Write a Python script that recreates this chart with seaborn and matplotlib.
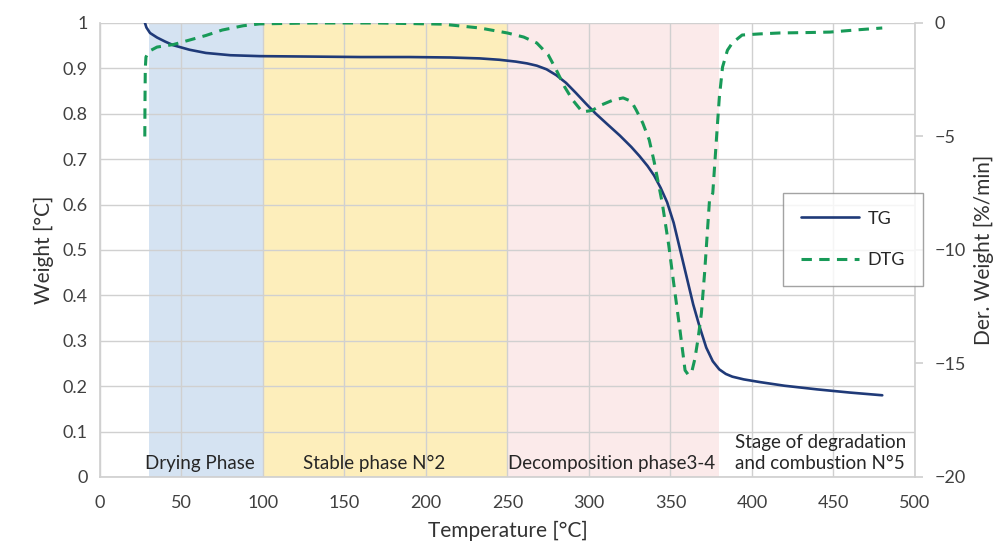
import matplotlib
matplotlib.use("Agg")
import matplotlib.pyplot as plt
import seaborn as sns
from matplotlib.lines import Line2D

# TG curve (weight fraction vs temperature)
tg_temp = [27.6, 28.5, 30.7, 35, 40, 45, 55, 65, 80, 98, 130, 160, 190, 215, 233, 245,
           255, 262, 268, 274, 280, 286, 292, 298, 304, 311, 319, 326, 331, 336, 340,
           344, 348, 352, 356, 360, 364, 368, 372, 376, 380, 384, 388, 395, 405, 420,
           440, 460, 480]
tg_weight = [1.0, 0.99, 0.978, 0.968, 0.959, 0.951, 0.941, 0.934, 0.929, 0.927, 0.926,
             0.925, 0.925, 0.924, 0.922, 0.919, 0.915, 0.911, 0.906, 0.898, 0.885,
             0.868, 0.846, 0.823, 0.801, 0.778, 0.752, 0.727, 0.707, 0.685, 0.664,
             0.637, 0.605, 0.56, 0.50, 0.44, 0.38, 0.33, 0.285, 0.255, 0.237, 0.227,
             0.221, 0.215, 0.209, 0.201, 0.193, 0.186, 0.18]

# DTG curve (%/min vs temperature)
dtg_temp = [27.5, 27.6, 27.8, 28.2, 30, 35, 45, 55, 65, 75, 88, 98, 130, 170, 210, 233,
            250, 260, 268, 275, 280, 285, 290, 296, 302, 308, 315, 321, 326, 329,
            333, 337, 340, 343, 345, 349, 352, 356, 359, 361, 363, 365, 367, 369,
            371, 374, 376, 378.5, 380, 382, 385, 388, 394, 405, 417, 435, 448, 465, 480]
dtg_value = [-5.0, -3.5, -2.0, -1.5, -1.25, -1.06, -0.95, -0.75, -0.55, -0.31, -0.12,
             -0.04, 0.0, 0.0, -0.05, -0.22, -0.44, -0.62, -0.88, -1.4, -2.07, -2.8,
             -3.39, -3.92, -3.85, -3.6, -3.39, -3.3, -3.45, -3.83, -4.4, -5.15, -6.1,
             -7.2, -7.93, -9.8, -11.45, -13.6, -15.3, -15.5, -15.4, -14.8, -13.9,
             -12.8, -11.0, -7.8, -7.5, -4.85, -3.3, -1.94, -1.2, -0.88, -0.53, -0.48,
             -0.44, -0.42, -0.40, -0.3, -0.22]

phase_edges = [30, 100, 250, 380]
phase_colors = ["#d5e3f2", "#fdeebb", "#fbeaea"]
phase_labels = ["Drying Phase", "Stable phase N\u00b02", "Decomposition phase3-4",
                "Stage of degradation\nand combustion N\u00b05"]
phase_label_x = [61, 168, 314, 442]

sns.set_theme(style="white")
plt.rcParams["font.family"] = ["Lato", "DejaVu Sans"]

fig = plt.figure(figsize=(10.06, 5.54), dpi=100)
ax = fig.add_axes([0.0994, 0.139, 0.81, 0.8195])
ax2 = ax.twinx()

for i, c in enumerate(phase_colors):
    ax.axvspan(phase_edges[i], phase_edges[i + 1], color=c, zorder=0, lw=0)

tg_color = "#1f3a78"
dtg_color = "#189a58"
sns.lineplot(x=tg_temp, y=tg_weight, ax=ax, color=tg_color, lw=1.9,
             estimator=None, sort=False, zorder=3)
sns.lineplot(x=dtg_temp, y=dtg_value, ax=ax2, color=dtg_color, lw=2.2,
             estimator=None, sort=False, zorder=3)
ax2.lines[0].set_dashes((3.4, 2.4))

ax.set_xlim(0, 500)
ax.set_ylim(0, 1)
ax2.set_ylim(-20, 0)
ax.set_xticks(range(0, 501, 50))
ax.set_yticks([i / 10 for i in range(11)])
ax.set_yticklabels(["0"] + [f"{i / 10:g}" for i in range(1, 10)] + ["1"])
ax2.set_yticks([0, -5, -10, -15, -20])

grid_c = "#d0d0d0"
ax.grid(True, color=grid_c, lw=1.0, zorder=1)
ax.set_axisbelow(True)
for a in (ax, ax2):
    for s in a.spines.values():
        s.set_visible(False)
ax.spines["left"].set_visible(True)
ax.spines["left"].set_color(grid_c)
ax.spines["bottom"].set_visible(True)
ax.spines["bottom"].set_color(grid_c)
ax2.spines["right"].set_visible(True)
ax2.spines["right"].set_color(grid_c)

tick_c = "#404040"
ax.tick_params(axis="both", labelsize=13, colors=tick_c, length=0, pad=9)
ax.tick_params(axis="x", pad=13)
ax2.tick_params(axis="y", labelsize=13, colors=tick_c, length=6, color=grid_c,
                direction="out", pad=8)

ax.set_xlabel("Temperature [\u00b0C]", fontsize=15, color="#333333", labelpad=7)
ax.set_ylabel("Weight [\u00b0C]", fontsize=15, color="#333333", labelpad=6)
ax2.set_ylabel("Der. Weight [%/min]", fontsize=15, color="#333333", labelpad=6)

for lbl, xp in zip(phase_labels, phase_label_x):
    ax.text(xp, 0.01, lbl, ha="center", va="bottom", fontsize=13.5,
            color="#262626", zorder=4, linespacing=1.3)

handles = [Line2D([], [], color=tg_color, lw=1.9),
           Line2D([], [], color=dtg_color, lw=2.2, dashes=(3.4, 2.4))]
leg = ax2.legend(handles, ["TG", "DTG"], loc="upper left",
                 bbox_to_anchor=(0.827, 0.646), frameon=True, fancybox=False,
                 fontsize=13, handlelength=3.2, labelspacing=1.4,
                 borderpad=1.0, handletextpad=0.5)
leg.get_frame().set_edgecolor("#8c8c8c")
leg.get_frame().set_linewidth(1.0)
for t in leg.get_texts():
    t.set_color("#262626")

fig.savefig("out.png", dpi=100)
